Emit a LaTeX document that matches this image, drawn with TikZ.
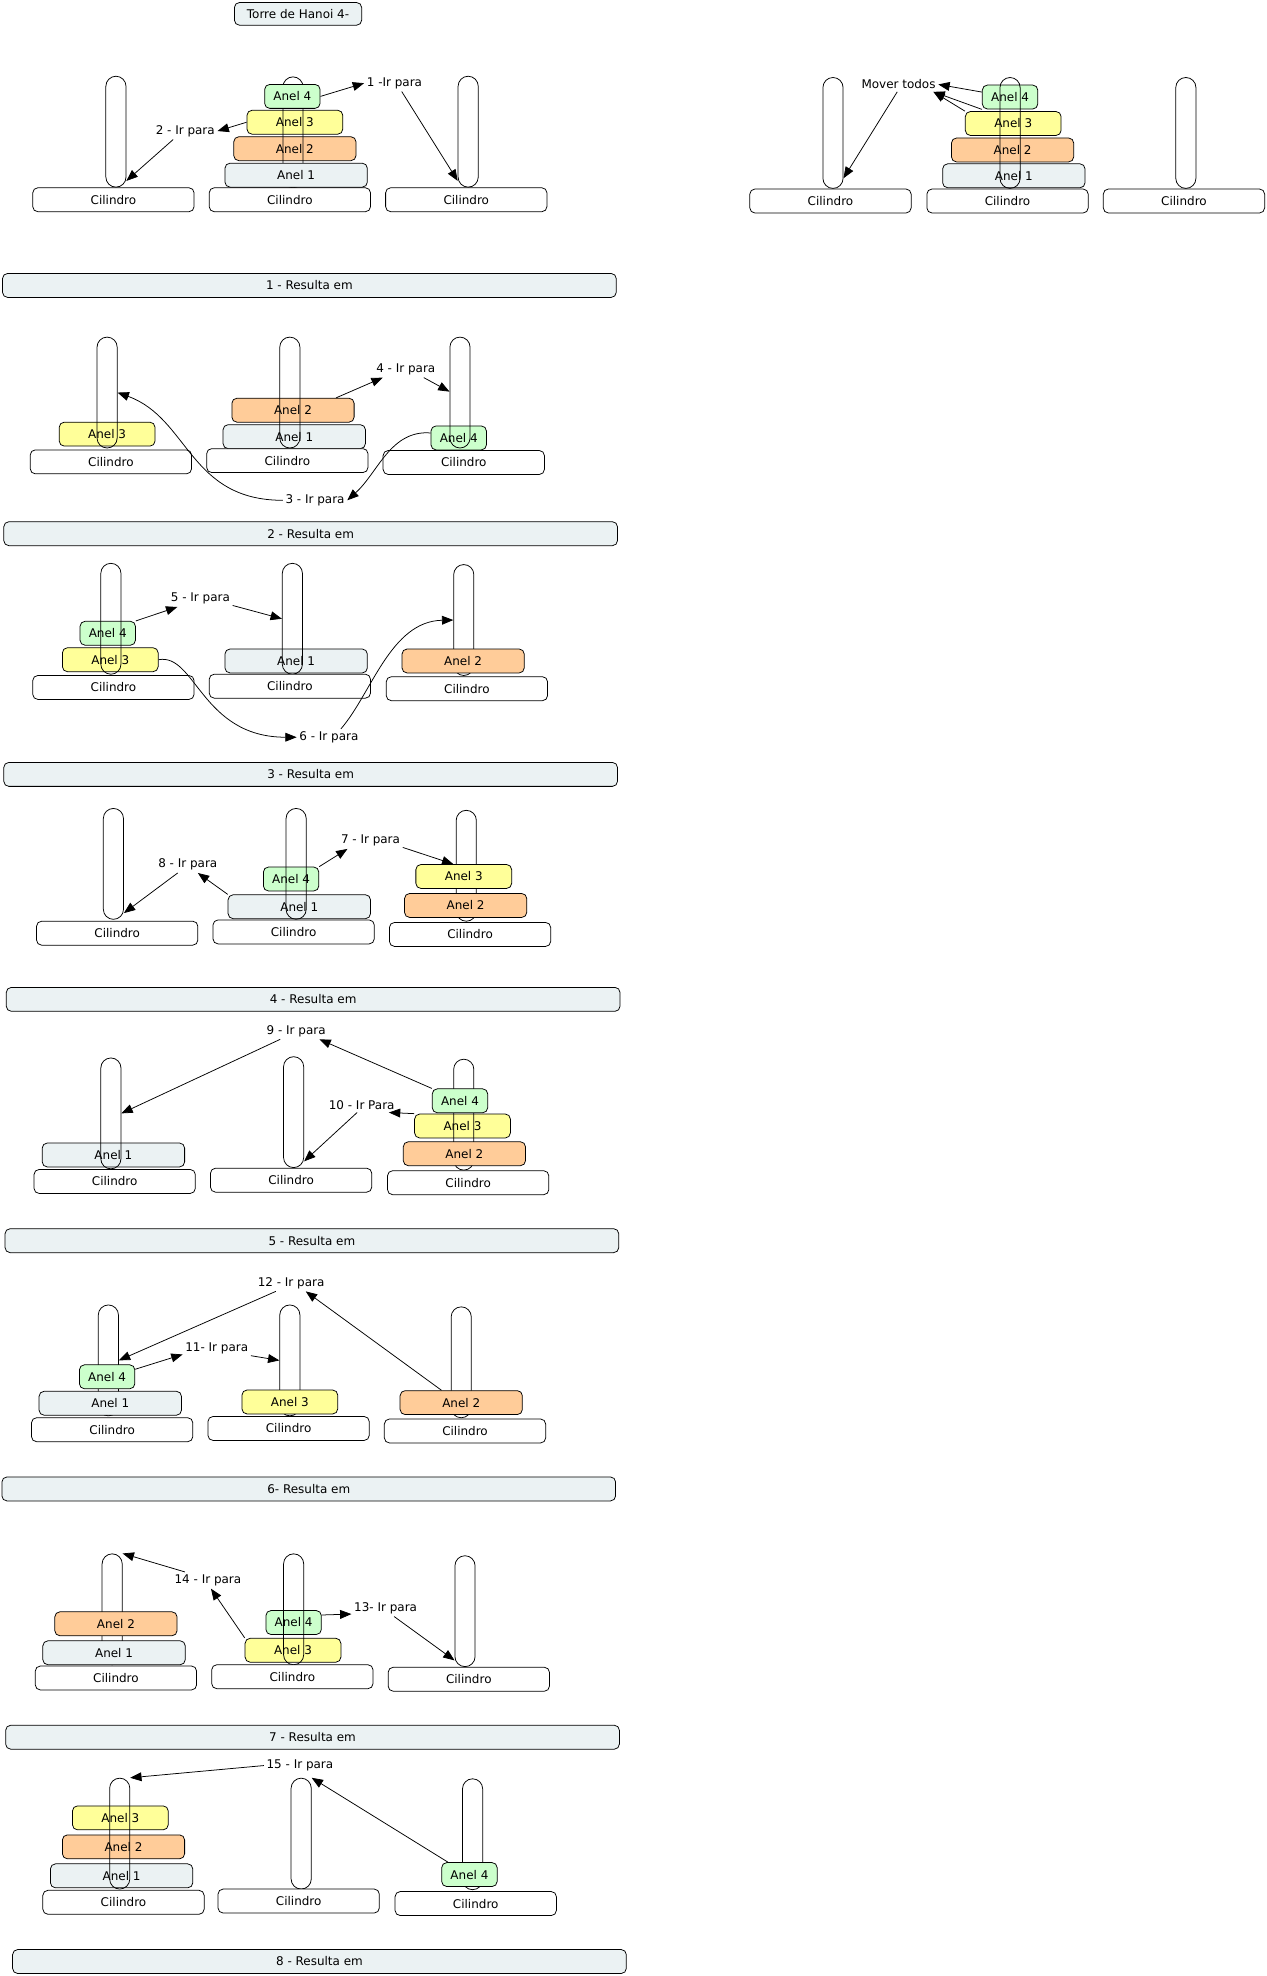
\documentclass[tikz,border=0pt]{standalone}
\usepackage{fontspec}
\setmainfont{DejaVu Sans}
\usepackage{tikz}
\usetikzlibrary{arrows.meta}
\definecolor{light}{HTML}{EBF2F3}
\definecolor{peach}{HTML}{FFCC99}
\definecolor{lemon}{HTML}{FFFF99}
\definecolor{mint}{HTML}{CCFFCC}

\begin{document}
\begin{tikzpicture}[
    x=1pt,y=-1pt,
    font=\fontsize{9.5}{10}\selectfont,
    box/.style={draw,line width=0.6pt,rounded corners=4pt,inner sep=0pt,minimum height=19pt,align=center},
    cyl/.style={box,fill=white,minimum width=128pt},
    peg/.style={draw,line width=0.6pt,rounded corners=8pt,minimum width=16pt,minimum height=88pt,inner sep=0pt},
    ring1/.style={box,fill=light,minimum width=113pt},
    ring2/.style={box,fill=peach,minimum width=97pt},
    ring3/.style={box,fill=lemon,minimum width=76pt},
    ring4/.style={box,fill=mint,minimum width=44pt},
    result/.style={box,fill=light,minimum width=487pt},
    lbl/.style={inner sep=2pt},
    arrow/.style={-{Triangle[length=9pt,width=7pt]},semithick}
  ]
    \useasboundingbox (0,0) rectangle (1005,1568);

    \node[box,fill=light,minimum width=101pt,minimum height=18pt] (title) at (236.5,11) {Torre de Hanoi 4-};

    \node[ring3] (a1r3) at (234,97) {Anel 3};
    \node[ring2] (a1r2) at (234,118) {Anel 2};
    \node[peg] (p1a) at (92,104.5) {};
    \node[peg] (p1b) at (232.5,105) {};
    \node[peg] (p1c) at (371.5,104.5) {};
    \node[cyl] (c1a) at (90,158.5) {Cilindro};
    \node[cyl] (c1b) at (230,158.5) {Cilindro};
    \node[cyl] (c1c) at (370,158.5) {Cilindro};
    \node[ring4] (a1r4) at (232,76.5) {Anel 4};
    \node[ring1] (a1r1) at (235,139) {Anel 1};
    \node[lbl] (s1) at (313,66) {1 -Ir para};
    \node[lbl] (s2) at (147,104) {2 - Ir para};
    \draw[arrow] (a1r4.east) -- (s1.west);
    \draw[arrow] (s1.-49) -- (p1c.258);
    \draw[arrow] (a1r3.west) -- (s2.east);
    \draw[arrow] (s2.215) -- (p1a.-78);

    \node[ring4] (a0r4) at (801.5,77) {Anel 4};
    \node[ring3] (a0r3) at (804,98) {Anel 3};
    \node[ring2] (a0r2) at (803.5,119) {Anel 2};
    \node[ring1] (a0r1) at (804.5,139.5) {Anel 1};
    \node[peg] (p0a) at (661,105.5) {};
    \node[peg] (p0b) at (801.5,105.5) {};
    \node[peg] (p0c) at (941,105.5) {};
    \node[cyl] (c0a) at (659,159.5) {Cilindro};
    \node[cyl] (c0b) at (799.5,159.5) {Cilindro};
    \node[cyl] (c0c) at (939.5,159.5) {Cilindro};
    \node[lbl] (mv) at (713,67) {Mover todos};
    \draw[arrow] (mv.-100) -- (p0a.-77);
    \draw[arrow] (a0r4.170) -- (mv.east);
    \draw[arrow] (a0r4.south west) -- (mv.-12);
    \draw[arrow] (a0r3.north west) -- (mv.-12);

    \node[result] (res1) at (245.5,226.5) {1 - Resulta em};

    \node[ring3] (a2r3) at (85,344.5) {Anel 3};
    \node[ring2] (a2r2) at (232.5,325.5) {Anel 2};
    \node[ring1] (a2r1) at (233.5,346.5) {Anel 1};
    \node[ring4] (a2r4) at (364,347.5) {Anel 4};
    \node[peg] (p2a) at (85,311.5) {};
    \node[peg] (p2b) at (230,311.5) {};
    \node[peg] (p2c) at (365,311.5) {};
    \node[cyl] (c2a) at (88,366.5) {Cilindro};
    \node[cyl] (c2b) at (228,365.5) {Cilindro};
    \node[cyl] (c2c) at (368,367) {Cilindro};
    \node[lbl] (s4) at (322,293) {4 - Ir para};
    \node[lbl] (s3) at (250,397) {3 - Ir para};
    \draw[arrow] (a2r2.16) -- (s4.200);
    \draw[arrow] (s4.-25) -- (p2c.175);
    \draw[arrow] (s3.west) .. controls (150,397) and (150,332) .. (p2a.east);
    \draw[arrow] (a2r4.170) .. controls (310,341) and (300,375) .. (s3.east);

    \node[result] (res2) at (246.5,423.5) {2 - Resulta em};

    \node[ring4] (a3r4) at (85.5,502.5) {Anel 4};
    \node[ring3] (a3r3) at (87.5,523.5) {Anel 3};
    \node[ring1] (a3r1) at (235,524.5) {Anel 1};
    \node[peg] (p3a) at (88,491) {};
    \node[peg] (p3b) at (232,491) {};
    \node[peg] (p3c) at (368,492) {};
    \node[cyl] (c3a) at (90,545.5) {Cilindro};
    \node[cyl] (c3b) at (230,544.5) {Cilindro};
    \node[cyl] (c3c) at (370.5,546.5) {Cilindro};
    \node[ring2] (a3r2) at (367.5,524.5) {Anel 2};
    \node[lbl] (s5) at (159,475) {5 - Ir para};
    \node[lbl] (s6) at (261,585) {6 - Ir para};
    \draw[arrow] (a3r4.north east) -- (s5.200);
    \draw[arrow] (s5.-12) -- (p3b.west);
    \draw[arrow] (a3r3.east) .. controls (155,518) and (160,585) .. (s6.west);
    \draw[arrow] (s6.35) .. controls (295,550) and (310,493) .. (p3c.west);

    \node[result] (res3) at (246.5,614.5) {3 - Resulta em};

    \node[ring4] (a4r4) at (231,697.5) {Anel 4};
    \node[ring1] (a4r1) at (237.5,719.5) {Anel 1};
    \node[peg] (p4a) at (90,685.5) {};
    \node[peg] (p4b) at (235,685.5) {};
    \node[peg] (p4c) at (370,687) {};
    \node[cyl] (c4a) at (93,740.5) {Cilindro};
    \node[cyl] (c4b) at (233,739.5) {Cilindro};
    \node[cyl] (c4c) at (373,741.5) {Cilindro};
    \node[ring3] (a4r3) at (368,695.5) {Anel 3};
    \node[ring2] (a4r2) at (369.5,718.5) {Anel 2};
    \node[lbl] (s7) at (294,667) {7 - Ir para};
    \node[lbl] (s8) at (149,686) {8 - Ir para};
    \draw[arrow] (a4r4.north east) -- (s7.200);
    \draw[arrow] (s7.-12) -- (a4r3.130);
    \draw[arrow] (a4r1.north west) -- (s8.-40);
    \draw[arrow] (s8.220) -- (p4a.-78);

    \node[result] (res4) at (248.5,793) {4 - Resulta em};

    \node[ring1] (a5r1) at (90,916.5) {Anel 1};
    \node[ring3] (a5r3) at (367,893.5) {Anel 3};
    \node[peg] (p5a) at (88,883.5) {};
    \node[peg] (p5b) at (233,882.5) {};
    \node[peg] (p5c) at (368,884.5) {};
    \node[cyl] (c5a) at (91,937.5) {Cilindro};
    \node[cyl] (c5b) at (231,936.5) {Cilindro};
    \node[cyl] (c5c) at (371.5,938.5) {Cilindro};
    \node[ring4] (a5r4) at (365,873.5) {Anel 4};
    \node[ring2] (a5r2) at (368.5,915.5) {Anel 2};
    \node[lbl] (s9) at (235,818) {9 - Ir para};
    \node[lbl] (s10) at (287,877) {10 - Ir Para};
    \draw[arrow] (s9.208) -- (p5a.east);
    \draw[arrow] (a5r4.north west) -- (s9.-20);
    \draw[arrow] (s10.238) -- (p5b.-78);
    \draw[arrow] (a5r3.north west) -- (s10.-15);

    \node[result] (res5) at (247.5,984.5) {5 - Resulta em};

    \node[peg] (p6a) at (86,1079.5) {};
    \node[peg] (p6b) at (230,1079.5) {};
    \node[peg] (p6c) at (366,1081) {};
    \node[cyl] (c6a) at (89,1134.5) {Cilindro};
    \node[cyl] (c6b) at (229,1133.5) {Cilindro};
    \node[cyl] (c6c) at (369,1135.5) {Cilindro};
    \node[ring4] (a6r4) at (85,1092.5) {Anel 4};
    \node[ring1] (a6r1) at (87.5,1113.5) {Anel 1};
    \node[ring3] (a6r3) at (230,1112.5) {Anel 3};
    \node[ring2] (a6r2) at (366,1113) {Anel 2};
    \node[lbl] (s12) at (231,1018) {12 - Ir para};
    \node[lbl] (s11) at (172,1070) {11- Ir para};
    \draw[arrow] (s12.209) -- (p6a.east);
    \draw[arrow] (a6r2.148) -- (s12.-30);
    \draw[arrow] (a6r4.15) -- (s11.190);
    \draw[arrow] (s11.-12) -- (p6b.west);

    \node[result] (res6) at (245,1181.5) {6- Resulta em};

    \node[ring4] (a7r4) at (233,1287.5) {Anel 4};
    \node[ring3] (a7r3) at (232.5,1309.5) {Anel 3};
    \node[peg] (p7a) at (89,1277) {};
    \node[peg] (p7b) at (233,1277) {};
    \node[peg] (p7c) at (369,1278.5) {};
    \node[cyl] (c7a) at (92,1331.5) {Cilindro};
    \node[cyl] (c7b) at (232,1330.5) {Cilindro};
    \node[cyl] (c7c) at (372,1332.5) {Cilindro};
    \node[ring2] (a7r2) at (92,1288.5) {Anel 2};
    \node[ring1] (a7r1) at (90.5,1311.5) {Anel 1};
    \node[lbl] (s14) at (165,1254) {14 - Ir para};
    \node[lbl] (s13) at (306,1276) {13- Ir para};
    \draw[arrow] (s14.160) -- (p7a.north east);
    \draw[arrow] (a7r3.north west) -- (s14.-70);
    \draw[arrow] (a7r4.15) -- (s13.190);
    \draw[arrow] (s13.-45) -- (p7c.258);

    \node[result] (res7) at (248,1378.5) {7 - Resulta em};

    \node[ring3] (a8r3) at (95.5,1442.5) {Anel 3};
    \node[ring2] (a8r2) at (98,1465.5) {Anel 2};
    \node[ring1] (a8r1) at (96.5,1488.5) {Anel 1};
    \node[peg] (p8a) at (95,1455) {};
    \node[peg] (p8b) at (239,1455) {};
    \node[peg] (p8c) at (375,1455.5) {};
    \node[cyl] (c8a) at (98,1509.5) {Cilindro};
    \node[cyl] (c8b) at (237,1508.5) {Cilindro};
    \node[cyl] (c8c) at (377.5,1510.5) {Cilindro};
    \node[ring4] (a8r4) at (372.5,1487.5) {Anel 4};
    \node[lbl] (s15) at (238,1401) {15 - Ir para};
    \draw[arrow] (s15.west) -- (p8a.north east);
    \draw[arrow] (a8r4.150) -- (p8b.north east);

    \node[result] (res8) at (253.5,1556.5) {8 - Resulta em};
  \end{tikzpicture}
\end{document}
